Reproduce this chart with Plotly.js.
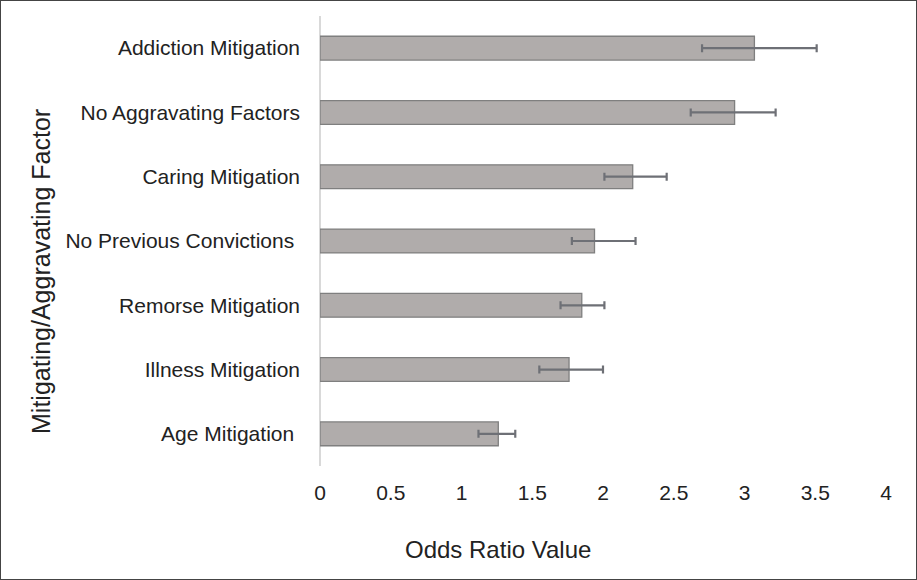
<!DOCTYPE html>
<html>
<head>
<meta charset="utf-8">
<script src="https://cdn.plot.ly/plotly-3.0.1.min.js"></script>
<style>
html,body{margin:0;padding:0;background:#fff;}
#wrap{width:917px;height:580px;box-sizing:border-box;border:1px solid #444;overflow:hidden;}
#chart{width:915px;height:578px;}
</style>
</head>
<body>
<div id="wrap"><div id="chart"></div></div>
<script>
const categories = ["Addiction Mitigation","No Aggravating Factors","Caring Mitigation","No Previous Convictions","Remorse Mitigation","Illness Mitigation","Age Mitigation"];
const categoryLabels = ["Addiction Mitigation","No Aggravating Factors","Caring Mitigation","No Previous Convictions\u00a0","Remorse Mitigation","Illness Mitigation","Age Mitigation\u00a0"];
const oddsRatio = [3.07, 2.93, 2.21, 1.94, 1.85, 1.76, 1.26];
const lowerCI = [2.70, 2.62, 2.01, 1.78, 1.70, 1.55, 1.12];
const upperCI = [3.51, 3.22, 2.45, 2.23, 2.01, 2.00, 1.38];
const xTicks = [0, 0.5, 1, 1.5, 2, 2.5, 3, 3.5, 4];

const errPlus = oddsRatio.map((v,i)=>upperCI[i]-v);
const errMinus = oddsRatio.map((v,i)=>v-lowerCI[i]);

const trace = {
  type:'bar', orientation:'h',
  x: oddsRatio, y: categories,
  width: 0.37,
  marker:{color:'#b0acab', line:{color:'#7f7f7f', width:1.3}},
  error_x:{type:'data', symmetric:false, array:errPlus, arrayminus:errMinus, color:'#6e7076', thickness:2.2, width:4},
  hoverinfo:'skip'
};

const layout = {
  width:915, height:578,
  margin:{l:319, r:30, t:15, b:113, pad:0},
  paper_bgcolor:'#fff', plot_bgcolor:'#fff',
  showlegend:false,
  font:{family:'Liberation Sans, Arial, sans-serif', color:'#222', size:21},
  xaxis:{range:[0,4], tickvals:xTicks, ticktext:xTicks.map(String), showgrid:false,
    zeroline:true, zerolinecolor:'#d9d9d9', zerolinewidth:1.2, showline:false, ticks:'',
    tickfont:{size:21, color:'#222'}, ticklabelstandoff:12, fixedrange:true},
  yaxis:{type:'category', autorange:'reversed', showgrid:false, zeroline:false, showline:false,
    tickvals:categories, ticktext:categoryLabels,
    ticks:'', tickfont:{size:21, color:'#222'}, ticklabelstandoff:19, fixedrange:true},
  annotations:[
    {text:'Odds Ratio Value', xref:'paper', yref:'paper', x:(497-319)/566, y:-(548-465)/450, xanchor:'center', yanchor:'middle', showarrow:false, font:{size:24, color:'#222'}},
    {text:'Mitigating/Aggravating Factor', xref:'paper', yref:'paper', x:-(319-40)/566, y:1-(271-15)/450, xanchor:'center', yanchor:'middle', textangle:-90, showarrow:false, font:{size:25, color:'#222'}}
  ]
};

Plotly.newPlot('chart', [trace], layout, {displayModeBar:false, staticPlot:true});
</script>
</body>
</html>
